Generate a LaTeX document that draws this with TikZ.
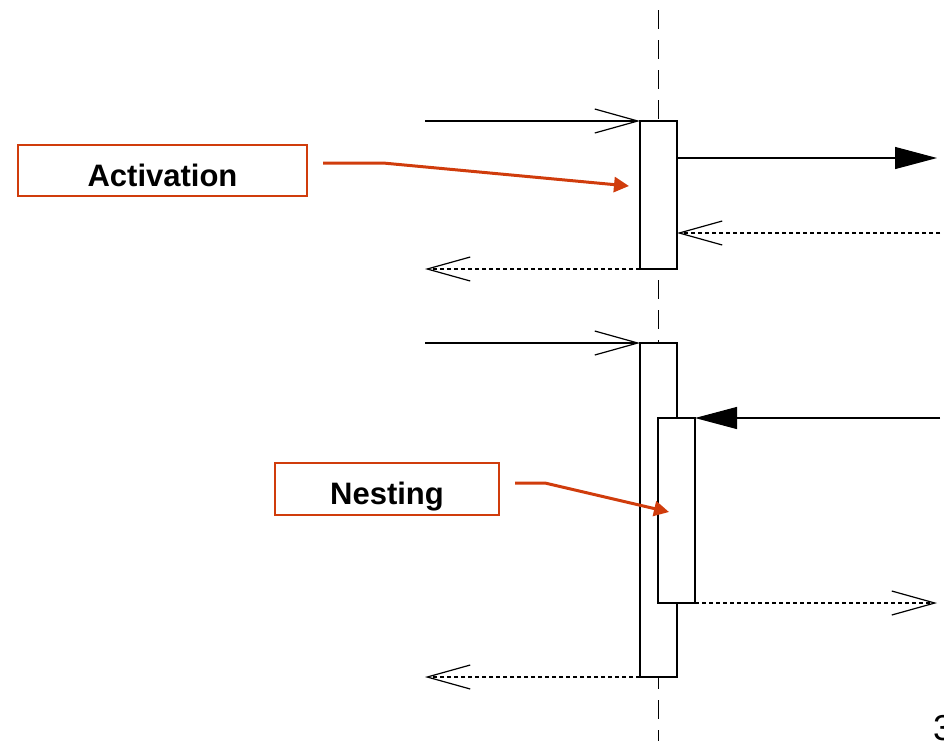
\documentclass[tikz,border=0pt]{standalone}
\usepackage{fontspec}
\setmainfont{Liberation Sans}
\usetikzlibrary{arrows.meta}
\definecolor{note}{RGB}{208,60,12}
\tikzset{
  msg/.style={line width=1.2pt},
  reply/.style={line width=1.2pt, dash pattern=on 4pt off 3pt},
  openhead/.style={-{Straight Barb[length=43pt,width=24pt,line width=1.2pt]}},
  fullhead/.style={-{Triangle[length=42pt,width=22pt]}},
  act/.style={draw, fill=white, line width=1.2pt, minimum width=37pt, inner sep=0pt, outer sep=0pt},
  label/.style={draw=note, line width=2.5pt, fill=white, font=\bfseries\fontsize{31}{31}\selectfont,
    text height=31.5pt, text depth=0pt, inner sep=0pt, outer sep=0pt},
  pointer/.style={draw=note, line width=3pt, -{Triangle[length=15pt,width=15pt]}}
}
\begin{document}
\begin{tikzpicture}[x=1pt,y=-1pt]
\useasboundingbox (0,0) rectangle (944,740);
% lifeline
\coordinate (lt) at (658.5,10);
\coordinate (lb) at (658.5,760);
\draw[line width=1.2pt, dash pattern=on 19pt off 11pt] (lt) -- (lb);

% first activation
\node[act, minimum height=148pt] (a1) at (658.5,195) {};
\coordinate (c1) at (425,121);
\coordinate (r1) at (937,158);
\coordinate (s1) at (940,233);
\coordinate (e1) at (425,269);
\draw[msg, openhead] (c1) -- (a1.north west);
\draw[msg, fullhead] (a1.east |- r1) -- (r1);
\draw[reply, openhead] (s1) -- (a1.east |- s1);
\draw[reply, openhead] (a1.south west) -- (e1);

% second activation with nested one
\node[act, minimum height=334pt] (a2) at (658.5,510) {};
\node[act, minimum height=185pt] (n2) at (676.5,510.5) {};
\coordinate (c2) at (425,343);
\coordinate (s2) at (940,418);
\coordinate (r2) at (937,603);
\coordinate (e2) at (425,677);
\draw[msg, openhead] (c2) -- (a2.north west);
\draw[msg, fullhead] (s2) -- (n2.north east);
\draw[reply, openhead] (n2.south east) -- (r2);
\draw[reply, openhead] (a2.south west) -- (e2);

% notes
\node[label, minimum width=289pt, minimum height=51pt] (actlab) at (162.5,170.5) {Activation};
\node[label, minimum width=224pt, minimum height=52pt] (nestlab) at (387,489) {Nesting};
\coordinate (p1s) at (323,163);
\coordinate (p1k) at (383,163);
\coordinate (p1e) at (629,186);
\draw[pointer] (p1s) -- (p1k) -- (p1e);
\coordinate (p2s) at (515,483);
\coordinate (p2k) at (545,483);
\coordinate (p2e) at (669,512);
\draw[pointer] (p2s) -- (p2k) -- (p2e);

% page number
\node[anchor=base west, inner sep=0pt, font=\fontsize{36}{36}\selectfont] (pg) at (933,740) {3};
\end{tikzpicture}
\end{document}
